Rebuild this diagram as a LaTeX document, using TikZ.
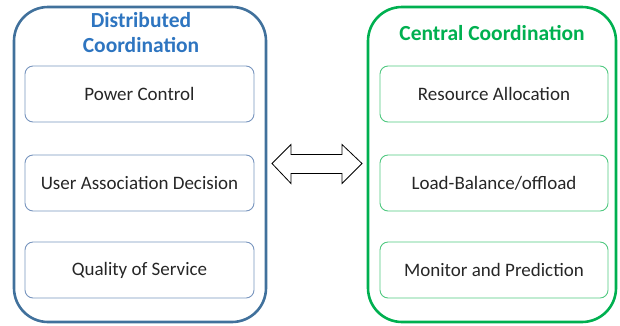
\documentclass[tikz,border=0pt]{standalone}
\usepackage{fontspec}
\setmainfont{Carlito}
\definecolor{blueout}{HTML}{41719C}
\definecolor{bluein}{HTML}{7895BE}
\definecolor{bluetitle}{HTML}{2E75C0}
\definecolor{greenout}{HTML}{00B050}
\definecolor{greenin}{HTML}{50C880}
\definecolor{txt}{HTML}{262626}
\begin{document}
\begin{tikzpicture}[x=1pt,y=-1pt,
  outerbox/.style={draw, line width=2.6pt, rounded corners=34pt},
  innerbox/.style={draw, line width=0.9pt, rounded corners=8pt, minimum width=229pt, minimum height=56pt, inner sep=0pt, font=\fontsize{19}{22}\selectfont, text=txt},
  title/.style={font=\bfseries\fontsize{21.5}{25}\selectfont, align=center}]
\useasboundingbox (0,0) rectangle (620,325);
% outer boxes
\draw[outerbox, blueout] (14,7) rectangle (266,322);
\draw[outerbox, greenout] (368,7) rectangle (616,322);
% titles
\node[title, text=bluetitle] (tl) at (141,33) {Distributed\\Coordination};
\node[title, text=greenout] (tr) at (492,33) {Central Coordination};
% inner boxes left
\node[innerbox, draw=bluein] (l1) at (139.5,94) {Power Control};
\node[innerbox, draw=bluein] (l2) at (139.5,183) {User Association Decision};
\node[innerbox, draw=bluein] (l3) at (139.5,270) {Quality of Service};
% inner boxes right
\node[innerbox, draw=greenin, minimum width=228pt] (r1) at (494,94) {Resource Allocation};
\node[innerbox, draw=greenin, minimum width=228pt] (r2) at (494,183) {Load-Balance/offload};
\node[innerbox, draw=greenin, minimum width=228pt] (r3) at (494,270) {Monitor and Prediction};
% double block arrow
\coordinate (ac) at (317,163.5);
\draw[line width=0.8pt, fill=white, line join=miter]
  (ac) ++(-45,0) -- ++(19,-19) -- ++(0,10) -- ++(51,0) -- ++(0,-10)
  -- ++(20,19) -- ++(-20,20) -- ++(0,-10) -- ++(-51,0) -- ++(0,10) -- cycle;
\end{tikzpicture}
\end{document}
